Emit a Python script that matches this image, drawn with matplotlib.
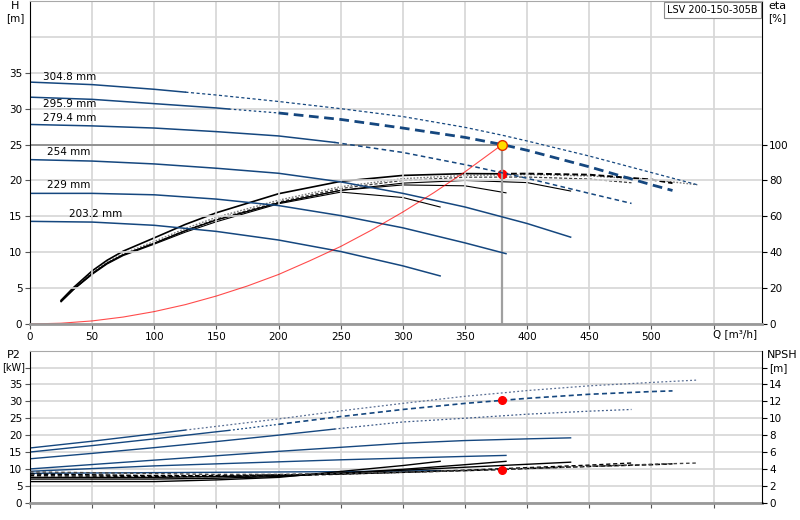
import numpy as np
import matplotlib
matplotlib.use('Agg')
import matplotlib.pyplot as plt

# impeller diameters (labels at the left of the H curves)
diam_labels = ['304.8 mm', '295.9 mm', '279.4 mm', '254 mm', '229 mm', '203.2 mm']

# ---- 304.8 mm ----
q_a = [0, 50, 100, 125, 150, 200, 250, 300, 350, 380, 400, 450, 500, 537]
h_a = [33.7, 33.35, 32.7, 32.3, 31.9, 31.0, 30.0, 28.9, 27.4, 26.3, 25.5, 23.4, 21.1, 19.4]
p_a = [16.2, 18.2, 20.4, 21.5, 22.6, 24.8, 27.2, 29.4, 31.5, 32.5, 33.2, 34.6, 35.6, 36.3]
n_a = [3.65, 3.55, 3.45, 3.4, 3.35, 3.35, 3.45, 3.6, 3.8, 3.95, 4.05, 4.3, 4.55, 4.7]
qe_a = [25, 35, 50, 62, 75, 100, 125, 150, 200, 250, 300, 350, 400, 450, 500, 537]
e_a = [12.8, 19.8, 28.6, 34.4, 39.2, 46.0, 53.2, 59.5, 69.0, 76.5, 81.0, 82.8, 83.3, 82.5, 80.5, 77.6]

# ---- 295.9 mm (selected) ----
q_b = [0, 50, 100, 150, 160, 200, 250, 300, 350, 380, 400, 450, 500, 517]
h_b = [31.6, 31.3, 30.7, 30.1, 29.95, 29.4, 28.5, 27.3, 26.0, 25.0, 24.2, 21.9, 19.4, 18.6]
p_b = [15.0, 16.9, 18.9, 21.0, 21.4, 23.2, 25.5, 27.6, 29.4, 30.3, 30.9, 32.1, 32.9, 33.1]
n_b = [3.4, 3.3, 3.2, 3.2, 3.2, 3.3, 3.4, 3.6, 3.8, 3.93, 4.05, 4.3, 4.5, 4.6]
qe_b = [25, 35, 50, 62, 75, 100, 125, 150, 200, 250, 300, 350, 380, 400, 450, 500, 517]
e_b = [13.2, 20.3, 29.6, 35.5, 40.6, 48.0, 55.5, 62.0, 72.6, 79.5, 82.8, 83.8, 83.7, 83.8, 83.2, 80.5, 78.5]

# ---- 279.4 mm ----
q_c = [0, 50, 100, 150, 200, 245, 300, 350, 400, 450, 484]
h_c = [27.8, 27.6, 27.3, 26.8, 26.2, 25.3, 23.9, 22.2, 20.3, 18.2, 16.8]
p_c = [13.0, 14.6, 16.3, 18.1, 20.0, 21.8, 23.9, 25.0, 26.2, 27.1, 27.6]
n_c = [3.2, 3.15, 3.1, 3.1, 3.2, 3.35, 3.6, 3.85, 4.15, 4.45, 4.7]
qe_c = [25, 35, 50, 62, 75, 100, 125, 150, 200, 250, 300, 350, 400, 450, 484]
e_c = [12.6, 19.5, 28.1, 33.9, 38.6, 45.0, 52.2, 58.5, 68.0, 75.5, 80.0, 81.8, 81.9, 80.8, 78.7]

# ---- 254 mm ----
q_d = [0, 50, 100, 150, 200, 250, 300, 350, 400, 435]
h_d = [22.9, 22.7, 22.3, 21.7, 21.0, 19.8, 18.2, 16.3, 14.0, 12.1]
p_d = [10.0, 11.3, 12.6, 13.9, 15.2, 16.4, 17.6, 18.4, 18.9, 19.2]
n_d = [3.0, 3.0, 3.0, 3.1, 3.2, 3.5, 3.85, 4.2, 4.55, 4.8]
qe_d = [25, 35, 50, 62, 75, 100, 125, 150, 200, 250, 300, 350, 400, 435]
e_d = [12.5, 19.3, 28.1, 33.9, 38.6, 45.0, 52.0, 58.0, 67.5, 74.5, 78.5, 80.0, 78.8, 74.1]

# ---- 229 mm ----
q_e = [0, 50, 100, 150, 200, 250, 300, 350, 383]
h_e = [18.2, 18.2, 18.0, 17.4, 16.5, 15.1, 13.4, 11.3, 9.8]
p_e = [9.3, 10.1, 10.9, 11.5, 12.1, 12.7, 13.2, 13.7, 14.0]
n_e = [2.8, 2.8, 2.8, 2.9, 3.1, 3.5, 3.95, 4.5, 4.9]
qe_e = [25, 35, 50, 62, 75, 100, 125, 150, 200, 250, 300, 350, 383]
e_e = [12.5, 19.3, 28.1, 33.9, 38.6, 45.0, 52.0, 58.0, 67.5, 74.5, 77.5, 77.0, 73.1]

# ---- 203.2 mm ----
q_f = [0, 50, 100, 150, 200, 250, 300, 330]
h_f = [14.3, 14.2, 13.75, 12.9, 11.7, 10.1, 8.1, 6.7]
p_f = [8.7, 8.8, 8.9, 9.0, 9.1, 9.2, 9.4, 9.5]
n_f = [2.5, 2.5, 2.5, 2.7, 3.0, 3.7, 4.4, 4.9]
qe_f = [25, 35, 50, 62, 75, 100, 125, 150, 200, 250, 300, 330]
e_f = [12.4, 19.1, 27.6, 33.4, 38.1, 44.5, 51.2, 57.0, 67.0, 73.5, 70.5, 65.2]

# system curve
q_sys = [0, 25, 50, 75, 100, 125, 150, 175, 200, 225, 250, 275, 300, 325, 350, 380]
h_sys = [0, 0.11, 0.43, 0.97, 1.73, 2.7, 3.9, 5.3, 6.9, 8.8, 10.8, 13.1, 15.6, 18.3, 21.2, 25.0]

# duty point
q_duty, h_duty, eta_duty, p2_duty, npsh_duty = 380, 25.0, 83.7, 30.3, 3.93

pump_name = 'LSV 200-150-305B'

BLUE = '#15477f'
GRID = '#d6d6d6'
plt.rcParams['font.family'] = ['DejaVu Sans']
FS = 7.5


def seg(ax, q, v, lo, hi, **kw):
    q = np.asarray(q, float)
    v = np.asarray(v, float)
    m = (q >= lo) & (q <= hi)
    ax.plot(q[m], v[m], **kw)


fig = plt.figure(figsize=(8, 5.2), dpi=100)
ax_h = fig.add_axes([30 / 800, 1 - 324 / 520, 732 / 800, 323 / 520])
ax_eta = ax_h.twinx()
ax_p = fig.add_axes([30 / 800, 1 - 502.7 / 520, 732 / 800, 152 / 520])
ax_n = ax_p.twinx()

xmax = 589
for ax in (ax_h, ax_p):
    ax.set_xlim(0, xmax)
    ax.set_xticks(np.arange(0, 551, 50))
    ax.grid(True, color=GRID, lw=1.2)
    ax.set_axisbelow(True)
    ax.spines['left'].set_color('black')
    ax.spines['right'].set_visible(False)
    ax.spines['top'].set_color('#a8a8a8')
    ax.spines['bottom'].set_color('#999999')
    ax.spines['bottom'].set_linewidth(2)
    ax.tick_params(axis='both', direction='out', length=3.5, width=0.8,
                   labelsize=FS, pad=2, color='#555555')
for ax in (ax_eta, ax_n):
    for s in ('left', 'top', 'bottom'):
        ax.spines[s].set_visible(False)
    ax.spines['right'].set_color('black')
    ax.tick_params(axis='y', direction='out', length=3.5, width=0.8,
                   labelsize=FS, pad=1.5)

# ---- top axes: H and eta ----
ax_h.set_ylim(0, 45)
ax_h.set_yticks(np.arange(0, 36, 5))
ax_h.axhline(40, color=GRID, lw=1.2, zorder=0.5)
ax_h.set_xticklabels([str(v) for v in range(0, 501, 50)] + [''])
ax_eta.set_ylim(0, 180)
ax_eta.set_yticks(np.arange(0, 101, 20))

# H curves
seg(ax_h, q_a, h_a, 0, 125, color=BLUE, lw=1.1)
seg(ax_h, q_a, h_a, 125, 600, color=BLUE, lw=0.9, ls=(0, (2.5, 2)))
seg(ax_h, q_b, h_b, 0, 160, color=BLUE, lw=1.1)
seg(ax_h, q_b, h_b, 160, 200, color=BLUE, lw=0.9, ls=(0, (2, 2)))
seg(ax_h, q_b, h_b, 200, 600, color=BLUE, lw=2.0, ls=(0, (3.5, 2)))
seg(ax_h, q_c, h_c, 0, 245, color=BLUE, lw=1.1)
seg(ax_h, q_c, h_c, 245, 600, color=BLUE, lw=1.1, ls=(0, (3, 2.2)))
for q, h in ((q_d, h_d), (q_e, h_e), (q_f, h_f)):
    ax_h.plot(q, h, color=BLUE, lw=1.1)

label_pos = [(10.5, 34.4), (10.5, 30.7), (10.5, 28.75), (13.5, 24.0), (13.5, 19.4), (31, 15.3)]
for txt, (x, y) in zip(diam_labels, label_pos):
    ax_h.text(x, y, txt, fontsize=FS, va='center', ha='left')

# system curve and duty lines
ax_h.plot(q_sys, h_sys, color='red', lw=0.8, alpha=0.7)
ax_h.plot([0, q_duty], [h_duty, h_duty], color='#8c8c8c', lw=1.3, zorder=1.5)
ax_h.plot([q_duty, q_duty], [0, h_duty], color='#a0a0a0', lw=1.6, zorder=1.5)

# efficiency curves
ax_eta.plot(qe_a, e_a, color='#7a7a7a', lw=1.0, ls=(0, (1.2, 1.2)))
ax_eta.plot(qe_c, e_c, color='#404040', lw=0.9, ls=(0, (2.5, 1.5)))
for q, e in ((qe_d, e_d), (qe_e, e_e), (qe_f, e_f)):
    ax_eta.plot(q, e, color='black', lw=0.8)
seg(ax_eta, qe_b, e_b, 0, 380, color='black', lw=1.2)
seg(ax_eta, qe_b, e_b, 380, 600, color='black', lw=1.4, ls=(0, (3, 1.5)))

ax_eta.plot(q_duty, eta_duty, 'o', color='red', ms=6, mec='red', zorder=5)
ax_h.plot(q_duty, h_duty, 'o', color='#ffdd00', ms=7, mec='#e03000', mew=1, zorder=6)
ax_h.set_zorder(ax_eta.get_zorder() + 1)
ax_h.patch.set_visible(False)

ax_h.text(0.9945, 0.971, pump_name, transform=ax_h.transAxes, fontsize=7,
          ha='right', va='center', zorder=10,
          bbox=dict(boxstyle='square,pad=0.3', fc='white', ec='#8c8c8c', lw=0.8))

# ---- bottom axes: P2 and NPSH ----
ax_p.set_ylim(0, 45)
ax_p.set_yticks(np.arange(0, 41, 5))
ax_p.set_yticklabels([str(v) for v in range(0, 36, 5)] + [''])
ax_p.set_xticklabels([])
ax_n.set_ylim(0, 18)
ax_n.set_yticks(np.arange(0, 17, 2))
ax_n.set_yticklabels([str(v) for v in range(0, 15, 2)] + ['[m]'])

seg(ax_p, q_a, p_a, 0, 125, color=BLUE, lw=1.0)
seg(ax_p, q_a, p_a, 125, 600, color='#5a6f94', lw=0.9, ls=(0, (1.5, 1.8)))
seg(ax_p, q_b, p_b, 0, 160, color=BLUE, lw=1.0)
seg(ax_p, q_b, p_b, 160, 200, color=BLUE, lw=0.9, ls=(0, (1.5, 1.8)))
seg(ax_p, q_b, p_b, 200, 600, color=BLUE, lw=1.2, ls=(0, (3, 2)))
seg(ax_p, q_c, p_c, 0, 245, color=BLUE, lw=1.0)
seg(ax_p, q_c, p_c, 245, 600, color='#3d5a88', lw=0.9, ls=(0, (1.5, 1.8)))
for q, p in ((q_d, p_d), (q_e, p_e), (q_f, p_f)):
    ax_p.plot(q, p, color=BLUE, lw=1.0)

for q, n in ((q_d, n_d), (q_e, n_e), (q_f, n_f)):
    ax_n.plot(q, n, color='black', lw=1.0)
ax_n.plot(q_c, n_c, color='black', lw=1.0, ls=(0, (3, 2)))
ax_n.plot(q_b, n_b, color='black', lw=1.1, ls=(0, (3, 1.5)))
ax_n.plot(q_a, n_a, color='#444444', lw=1.0, ls=(0, (2.5, 2)))

ax_p.plot(q_duty, p2_duty, 'o', color='red', ms=5.5, zorder=5)
ax_n.plot(q_duty, npsh_duty, 'o', color='red', ms=5.5, zorder=5)

# ---- axis captions ----
fig.text(15 / 800, 1 - 6 / 520, 'H', fontsize=FS + 0.5, ha='center', va='center')
fig.text(15 / 800, 1 - 18 / 520, '[m]', fontsize=FS, ha='center', va='center')
fig.text(768 / 800, 1 - 6 / 520, 'eta', fontsize=FS + 0.5, ha='left', va='center')
fig.text(768 / 800, 1 - 18 / 520, '[%]', fontsize=FS, ha='left', va='center')
fig.text(757 / 800, 1 - 334 / 520, 'Q [m\u00b3/h]', fontsize=FS, ha='right', va='center')
fig.text(14 / 800, 1 - 355 / 520, 'P2', fontsize=FS + 0.5, ha='center', va='center')
fig.text(14 / 800, 1 - 367 / 520, '[kW]', fontsize=7, ha='center', va='center')
fig.text(767 / 800, 1 - 355 / 520, 'NPSH', fontsize=FS + 0.5, ha='left', va='center')

fig.savefig('out.png', dpi=100)
